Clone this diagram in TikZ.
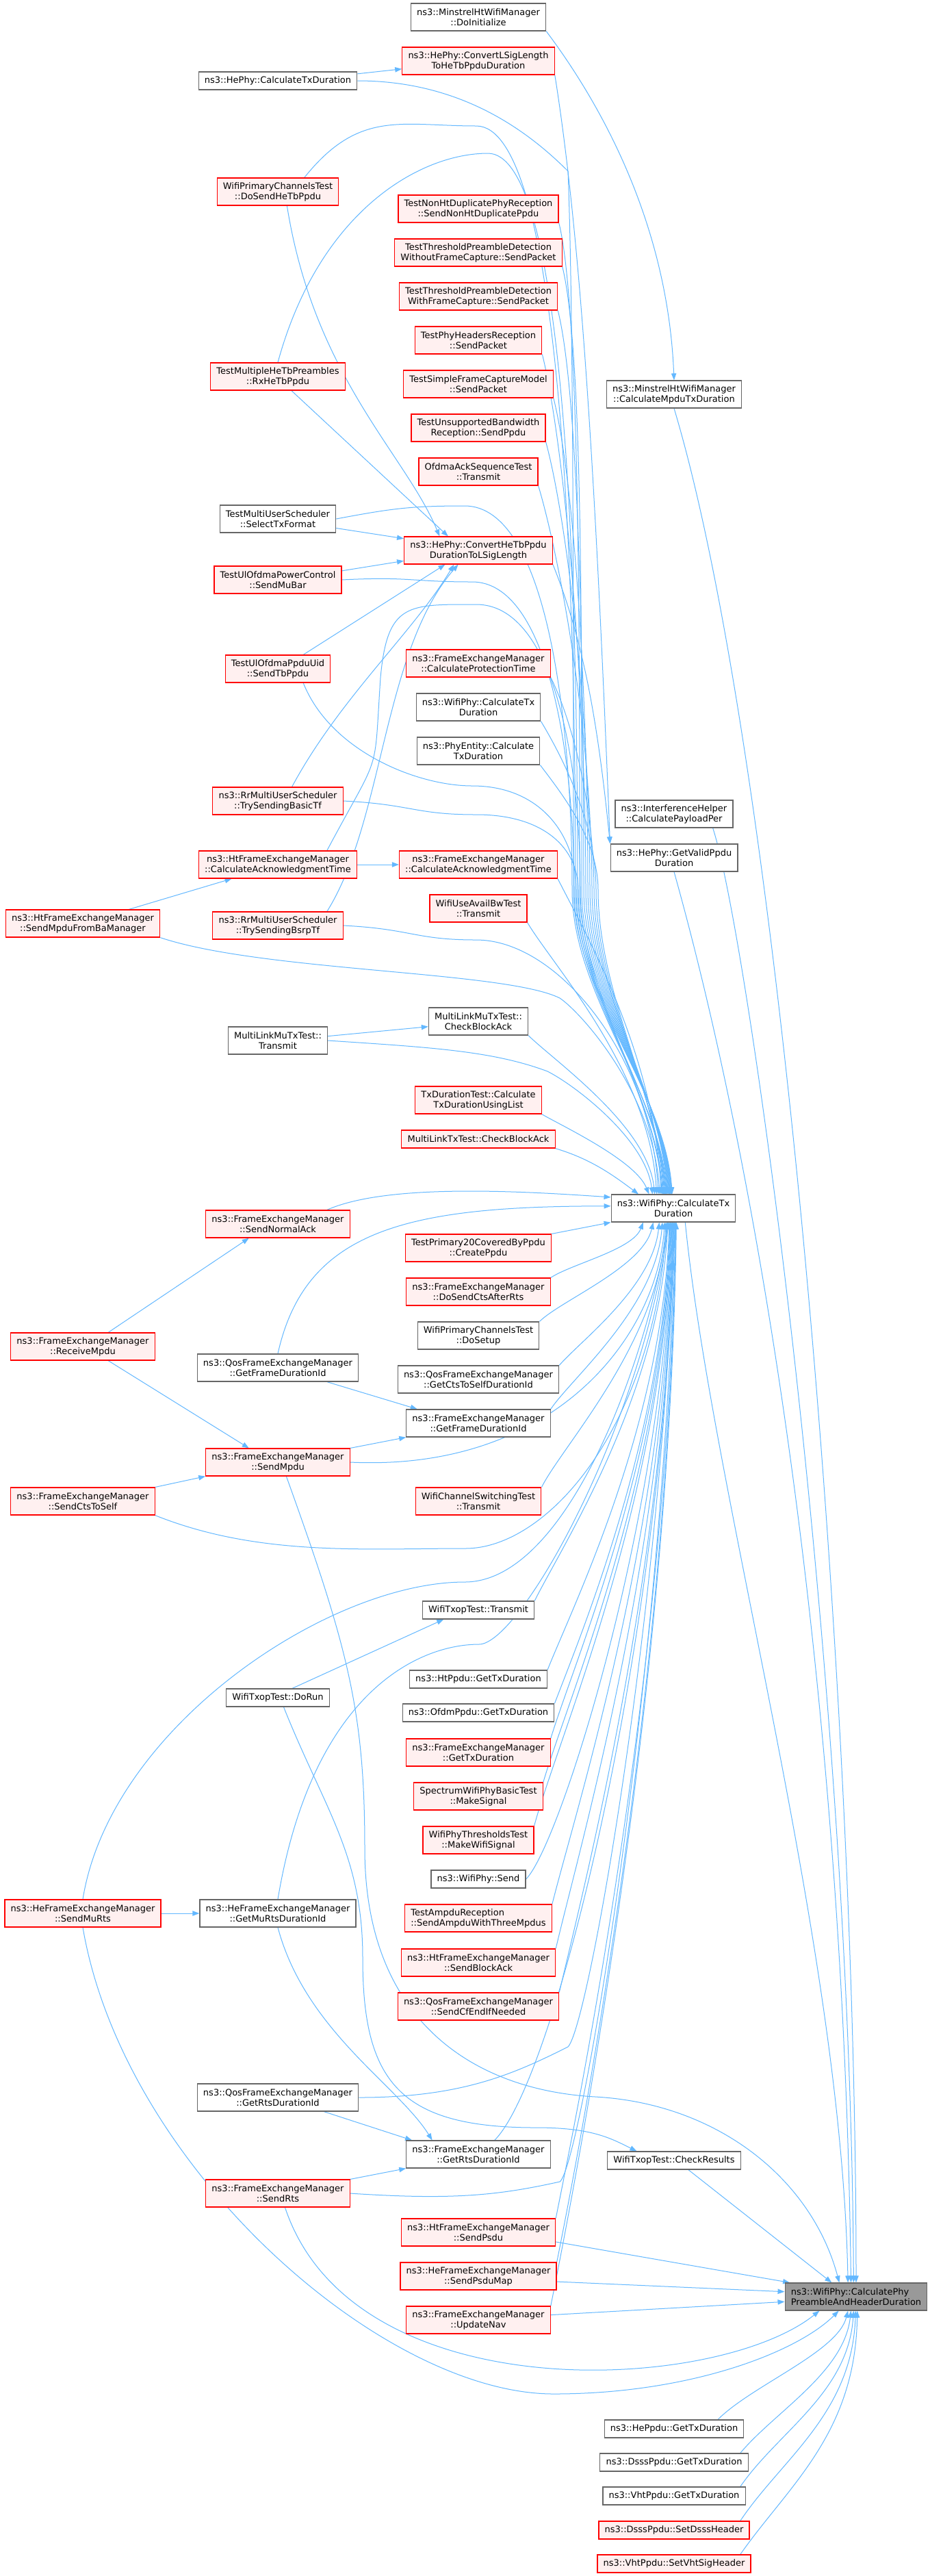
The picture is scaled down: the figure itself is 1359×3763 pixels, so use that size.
\documentclass[tikz,border=0pt]{standalone}
\usepackage{fontspec}
\setmainfont{DejaVu Sans}
\usetikzlibrary{arrows.meta}
\usetikzlibrary{backgrounds}

\definecolor{edgeblue}{HTML}{63B8FF}
\definecolor{redfill}{HTML}{FFF0F0}
\definecolor{boxgray}{HTML}{666666}
\definecolor{targetfill}{HTML}{999999}

\tikzset{
  fn/.style={rectangle, draw=boxgray, fill=white, line width=0.9pt, inner xsep=6.5pt, inner ysep=2pt,
    minimum height=30pt, align=center, font=\fontsize{9.75}{11.25}\selectfont},
  fnred/.style={fn, draw=red, fill=redfill},
  fnone/.style={minimum height=19.5pt},
  fntarget/.style={fn, fill=targetfill, align=left},
  call/.style={draw=edgeblue, line width=0.75pt, -{Triangle[length=7.5pt,width=5.5pt]}}
}

\begin{document}
\begin{tikzpicture}[x=0.75pt, y=-0.75pt]
\path[use as bounding box] (0,0) rectangle (1359,3763);
\begin{scope}[on background layer]
\fill[white] (0,0) rectangle (1359,3763);
\end{scope}

%draw callers, top part
\node[fn] (mhDoInit) at (699,25) {ns3::MinstrelHtWifiManager\\::DoInitialize};
\node[fnred] (convLSig) at (699,89) {ns3::HePhy::ConvertLSigLength\\ToHeTbPpduDuration};
\node[fn, fnone] (heCalcTx) at (406,118) {ns3::HePhy::CalculateTxDuration};
\node[fnred] (wpcSendHeTb) at (406,280) {WifiPrimaryChannelsTest\\::DoSendHeTbPpdu};
\node[fnred] (nonHtDup) at (699,305) {TestNonHtDuplicatePhyReception\\::SendNonHtDuplicatePpdu};
\node[fnred] (thrWithout) at (699,369) {TestThresholdPreambleDetection\\WithoutFrameCapture::SendPacket};
\node[fnred] (thrWith) at (699,433) {TestThresholdPreambleDetection\\WithFrameCapture::SendPacket};
\node[fnred] (phyHdr) at (699,497) {TestPhyHeadersReception\\::SendPacket};
\node[fnred] (multiHeTb) at (406,550) {TestMultipleHeTbPreambles\\::RxHeTbPpdu};
\node[fnred] (simpleCap) at (699,561) {TestSimpleFrameCaptureModel\\::SendPacket};
\node[fn] (mhCalcMpdu) at (985,576) {ns3::MinstrelHtWifiManager\\::CalculateMpduTxDuration};
\node[fnred] (unsupBw) at (699,625) {TestUnsupportedBandwidth\\Reception::SendPpdu};
\node[fnred] (ofdmaAck) at (699,689) {OfdmaAckSequenceTest\\::Transmit};
\node[fn] (selTxFmt) at (406,758) {TestMultiUserScheduler\\::SelectTxFormat};
\node[fnred] (convHeTb) at (699,804) {ns3::HePhy::ConvertHeTbPpdu\\DurationToLSigLength};
\node[fnred] (sendMuBar) at (406,847) {TestUlOfdmaPowerControl\\::SendMuBar};
\node[fnred] (calcProt) at (699,969) {ns3::FrameExchangeManager\\::CalculateProtectionTime};
\node[fnred] (sendTbPpdu) at (406,977) {TestUlOfdmaPpduUid\\::SendTbPpdu};
\node[fn] (wpCalcTx) at (699,1033) {ns3::WifiPhy::CalculateTx\\Duration};
\node[fn] (peCalcTx) at (699,1097) {ns3::PhyEntity::Calculate\\TxDuration};
\node[fnred] (trySendBasic) at (406,1170) {ns3::RrMultiUserScheduler\\::TrySendingBasicTf};
\node[fn] (ihCalcPer) at (985,1189) {ns3::InterferenceHelper\\::CalculatePayloadPer};
\node[fn] (validDur) at (985,1253) {ns3::HePhy::GetValidPpdu\\Duration};
\node[fnred] (htCalcAck) at (406,1263) {ns3::HtFrameExchangeManager\\::CalculateAcknowledgmentTime};
\node[fnred] (femCalcAck) at (699,1263) {ns3::FrameExchangeManager\\::CalculateAcknowledgmentTime};
\node[fnred] (wuabTx) at (699,1327) {WifiUseAvailBwTest\\::Transmit};
\node[fnred] (sendFromBa) at (121,1349) {ns3::HtFrameExchangeManager\\::SendMpduFromBaManager};
\node[fnred] (trySendBsrp) at (406,1352) {ns3::RrMultiUserScheduler\\::TrySendingBsrpTf};
\node[fn] (mlMuCheck) at (699,1492) {MultiLinkMuTxTest::\\CheckBlockAck};
\node[fn] (mlMuTx) at (406,1520) {MultiLinkMuTxTest::\\Transmit};
\node[fnred] (txDurList) at (699,1607) {TxDurationTest::Calculate\\TxDurationUsingList};
\node[fnred, fnone] (mlCheck) at (699,1664) {MultiLinkTxTest::CheckBlockAck};

%draw the hub
\node[fn] (wpTxDur) at (984,1765) {ns3::WifiPhy::CalculateTx\\Duration};

%draw callers, bottom part
\node[fnred] (sendNormalAck) at (406,1788) {ns3::FrameExchangeManager\\::SendNormalAck};
\node[fnred] (p20Create) at (699,1823) {TestPrimary20CoveredByPpdu\\::CreatePpdu};
\node[fnred] (doSendCts) at (699,1887) {ns3::FrameExchangeManager\\::DoSendCtsAfterRts};
\node[fn] (wpcSetup) at (699,1951) {WifiPrimaryChannelsTest\\::DoSetup};
\node[fnred] (recvMpdu) at (121,1967) {ns3::FrameExchangeManager\\::ReceiveMpdu};
\node[fn] (qosFrameDur) at (406,1998) {ns3::QosFrameExchangeManager\\::GetFrameDurationId};
\node[fn] (qosCtsSelf) at (699,2015) {ns3::QosFrameExchangeManager\\::GetCtsToSelfDurationId};
\node[fn] (femFrameDur) at (699,2079) {ns3::FrameExchangeManager\\::GetFrameDurationId};
\node[fnred] (sendMpdu) at (406,2136) {ns3::FrameExchangeManager\\::SendMpdu};
\node[fnred] (sendCtsSelf) at (121,2193) {ns3::FrameExchangeManager\\::SendCtsToSelf};
\node[fnred] (wcsTx) at (699,2193) {WifiChannelSwitchingTest\\::Transmit};
\node[fn, fnone] (txopTx) at (699,2352) {WifiTxopTest::Transmit};
\node[fn, fnone] (htPpduDur) at (699,2453) {ns3::HtPpdu::GetTxDuration};
\node[fn, fnone] (txopRun) at (406,2480) {WifiTxopTest::DoRun};
\node[fn, fnone] (ofdmPpduDur) at (699,2502) {ns3::OfdmPpdu::GetTxDuration};
\node[fnred] (femTxDur) at (699,2560) {ns3::FrameExchangeManager\\::GetTxDuration};
\node[fnred] (makeSignal) at (699,2624) {SpectrumWifiPhyBasicTest\\::MakeSignal};
\node[fnred] (makeWifiSig) at (699,2688) {WifiPhyThresholdsTest\\::MakeWifiSignal};
\node[fn, fnone] (wpSend) at (699,2745) {ns3::WifiPhy::Send};
\node[fnred] (sendMuRts) at (121,2795) {ns3::HeFrameExchangeManager\\::SendMuRts};
\node[fn] (muRtsDur) at (406,2795) {ns3::HeFrameExchangeManager\\::GetMuRtsDurationId};
\node[fnred, align=left] (ampdu3) at (699,2802) {TestAmpduReception\\::SendAmpduWithThreeMpdus};
\node[fnred] (sendBlockAck) at (699,2867) {ns3::HtFrameExchangeManager\\::SendBlockAck};
\node[fnred] (sendCfEnd) at (699,2931) {ns3::QosFrameExchangeManager\\::SendCfEndIfNeeded};
\node[fn] (qosRtsDur) at (406,3064) {ns3::QosFrameExchangeManager\\::GetRtsDurationId};
\node[fn] (femRtsDur) at (699,3147) {ns3::FrameExchangeManager\\::GetRtsDurationId};
\node[fn, fnone] (txopCheck) at (985,3156) {WifiTxopTest::CheckResults};
\node[fnred] (sendRts) at (406,3204) {ns3::FrameExchangeManager\\::SendRts};
\node[fnred] (sendPsdu) at (699,3261) {ns3::HtFrameExchangeManager\\::SendPsdu};
\node[fnred] (sendPsduMap) at (699,3325) {ns3::HeFrameExchangeManager\\::SendPsduMap};
\node[fntarget] (phyPreamble) at (1251,3355) {ns3::WifiPhy::CalculatePhy\\PreambleAndHeaderDuration};
\node[fnred] (updateNav) at (699,3389) {ns3::FrameExchangeManager\\::UpdateNav};
\node[fn, fnone] (hePpduDur) at (985,3548) {ns3::HePpdu::GetTxDuration};
\node[fn, fnone] (dsssPpduDur) at (985,3597) {ns3::DsssPpdu::GetTxDuration};
\node[fn, fnone] (vhtPpduDur) at (985,3646) {ns3::VhtPpdu::GetTxDuration};
\node[fnred, fnone] (setDsss) at (985,3696) {ns3::DsssPpdu::SetDsssHeader};
\node[fnred, fnone] (setVhtSig) at (985,3745) {ns3::VhtPpdu::SetVhtSigHeader};

\begin{scope}[on background layer]
%draw calls into the target
\draw[call] (mhCalcMpdu.south) .. controls +(150,500) and +(0,-900) .. (phyPreamble.90);
\draw[call] (ihCalcPer.-20) .. controls +(50,150) and +(-5,-900) .. (phyPreamble.100);
\draw[call] (validDur.south) .. controls +(140,500) and +(-10,-800) .. (phyPreamble.110);
\draw[call] (wpTxDur.-50) .. controls +(40,400) and +(-10,-500) .. (phyPreamble.120);
\draw[call] (txopCheck.-33) -- (phyPreamble.150);
\draw[call] (sendPsdu.-7) -- (phyPreamble.168);
\draw[call] (sendPsduMap.-4) -- (phyPreamble.176);
\draw[call] (updateNav.4) -- (phyPreamble.-176);
\draw[call] (sendRts.-63) .. controls +(100,300) and +(-150,120) .. (phyPreamble.-159);
\draw[call] (sendMuRts.south) .. controls +(60,350) and +(-250,0) .. (809,3497) .. controls +(200,0) and +(-60,60) .. (phyPreamble.-141);
\draw[call] (sendMpdu.-59) .. controls +(90,250) and +(0,-200) .. (533,2700) .. controls +(0,250) and +(-180,-10) .. (870,3063) .. controls +(180,10) and +(-40,-150) .. (phyPreamble.140);
\draw[call] (hePpduDur.12) .. controls +(50,-50) and +(-15,60) .. (phyPreamble.-120);
\draw[call] (dsssPpduDur.8) .. controls +(50,-60) and +(-10,90) .. (phyPreamble.-110);
\draw[call] (vhtPpduDur.8) .. controls +(55,-80) and +(-8,120) .. (phyPreamble.-100);
\draw[call] (setDsss.8) .. controls +(60,-90) and +(-5,150) .. (phyPreamble.-92);
\draw[call] (setVhtSig.8) .. controls +(70,-100) and +(-3,180) .. (phyPreamble.-85);

%draw calls into the hub from above
\draw[call] (heCalcTx.east) .. controls +(150,0) and +(-60,-60) .. (830,250) .. controls +(8,200) and +(0,-400) .. (838,1300) .. controls +(0,150) and +(-10,-150) .. (wpTxDur.95);
\draw[call] (wpcSendHeTb.28) .. controls +(80,-100) and +(-110,0) .. (696,184) .. controls +(120,0) and +(0,-500) .. (841,1300) .. controls +(0,150) and +(-10,-150) .. (wpTxDur.97);
\draw[call] (multiHeTb.north) .. controls +(60,-220) and +(-100,0) .. (713,224) .. controls +(110,0) and +(0,-500) .. (844,1300) .. controls +(0,150) and +(-10,-150) .. (wpTxDur.99);
\draw[call] (nonHtDup.south east) .. controls +(30,120) and +(0,-390) .. (847,1300) .. controls +(0,150) and +(-10,-150) .. (wpTxDur.101);
\draw[call] (thrWithout.south east) .. controls +(30,120) and +(0,-365) .. (850,1300) .. controls +(0,150) and +(-10,-150) .. (wpTxDur.103);
\draw[call] (thrWith.south east) .. controls +(30,120) and +(0,-340) .. (853,1300) .. controls +(0,150) and +(-10,-150) .. (wpTxDur.105);
\draw[call] (phyHdr.south east) .. controls +(30,120) and +(0,-315) .. (856,1300) .. controls +(0,150) and +(-10,-150) .. (wpTxDur.107);
\draw[call] (simpleCap.south east) .. controls +(30,120) and +(0,-290) .. (859,1300) .. controls +(0,150) and +(-10,-150) .. (wpTxDur.109);
\draw[call] (unsupBw.south east) .. controls +(30,110) and +(0,-260) .. (862,1300) .. controls +(0,150) and +(-10,-150) .. (wpTxDur.111);
\draw[call] (ofdmaAck.south east) .. controls +(30,100) and +(0,-235) .. (865,1300) .. controls +(0,150) and +(-10,-150) .. (wpTxDur.113);
\draw[call] (selTxFmt.east) .. controls +(80,-15) and +(-80,0) .. (679,739) .. controls +(120,0) and +(0,-250) .. (836,1300) .. controls +(0,150) and +(-10,-150) .. (wpTxDur.115);
\draw[call] (sendMuBar.east) .. controls +(100,-5) and +(-90,0) .. (690,850) .. controls +(110,0) and +(0,-200) .. (839,1300) .. controls +(0,150) and +(-10,-150) .. (wpTxDur.117);
\draw[call] (sendTbPpdu.-29) .. controls +(40,100) and +(-80,0) .. (690,1148) .. controls +(100,0) and +(0,-80) .. (842,1300) .. controls +(0,150) and +(-10,-150) .. (wpTxDur.119);
\draw[call] (calcProt.south east) .. controls +(30,60) and +(0,-125) .. (868,1300) .. controls +(0,150) and +(-10,-150) .. (wpTxDur.121);
\draw[call] (wpCalcTx.south east) .. controls +(30,50) and +(0,-100) .. (871,1300) .. controls +(0,150) and +(-10,-150) .. (wpTxDur.123);
\draw[call] (peCalcTx.south east) .. controls +(30,40) and +(0,-75) .. (874,1300) .. controls +(0,150) and +(-10,-150) .. (wpTxDur.125);
\draw[call] (trySendBasic.east) .. controls +(100,5) and +(-90,0) .. (696,1190) .. controls +(100,0) and +(0,-60) .. (845,1300) .. controls +(0,150) and +(-10,-150) .. (wpTxDur.127);
\draw[call] (htCalcAck.16) .. controls +(80,-150) and +(-10,150) .. (556,990) .. controls +(10,-110) and +(-100,0) .. (696,883) .. controls +(110,0) and +(0,-200) .. (848,1300) .. controls +(0,150) and +(-10,-150) .. (wpTxDur.129);
\draw[call] (femCalcAck.south east) .. controls +(35,70) and +(-10,-210) .. (wpTxDur.131);
\draw[call] (sendFromBa.south east) .. controls +(150,50) and +(-80,-40) .. (818,1458) .. controls +(30,20) and +(-10,-150) .. (wpTxDur.134);
\draw[call] (trySendBsrp.east) .. controls +(100,5) and +(-90,0) .. (696,1373) .. controls +(120,0) and +(-10,-200) .. (wpTxDur.137);
\draw[call] (wuabTx.south east) .. controls +(35,60) and +(-10,-180) .. (wpTxDur.140);
\draw[call] (mlMuCheck.south east) .. controls +(35,35) and +(-10,-100) .. (wpTxDur.143);
\draw[call] (mlMuTx.east) .. controls +(150,10) and +(-80,-30) .. (800,1565) .. controls +(40,20) and +(-10,-80) .. (wpTxDur.146);
\draw[call] (txDurList.south east) .. controls +(25,15) and +(-20,-50) .. (wpTxDur.150);
\draw[call] (mlCheck.south east) .. controls +(50,15) and +(-40,-30) .. (wpTxDur.158);
\draw[call] (sendNormalAck.16) .. controls +(90,-40) and +(-120,-8) .. (wpTxDur.170);
\draw[call] (qosFrameDur.north) .. controls +(40,-180) and +(-300,0) .. (wpTxDur.178);

%draw calls into the hub from below
\draw[call] (p20Create.north east) -- (wpTxDur.south west);
\draw[call] (doSendCts.north east) .. controls +(30,-20) and +(-15,40) .. (wpTxDur.-155);
\draw[call] (wpcSetup.north east) .. controls +(30,-30) and +(-15,65) .. (wpTxDur.-145);
\draw[call] (qosCtsSelf.north east) .. controls +(30,-35) and +(-10,95) .. (wpTxDur.-135);
\draw[call] (femFrameDur.north east) .. controls +(30,-45) and +(-10,125) .. (wpTxDur.-128);
\draw[call] (sendMpdu.east) .. controls +(300,14) and +(-10,165) .. (wpTxDur.-122);
\draw[call] (wcsTx.north east) .. controls +(30,-60) and +(-10,175) .. (wpTxDur.-118);
\draw[call] (sendCtsSelf.south east) .. controls +(150,60) and +(-150,0) .. (680,2262) .. controls +(120,0) and +(-20,300) .. (wpTxDur.-115);
\draw[call] (txopTx.north east) .. controls +(40,-80) and +(-10,250) .. (wpTxDur.-112);
\draw[call] (sendMuRts.north) .. controls +(40,-250) and +(-200,0) .. (679,2311) .. controls +(150,0) and +(-30,200) .. (wpTxDur.-110);
\draw[call] (muRtsDur.north) .. controls +(50,-300) and +(-90,0) .. (700,2402) .. controls +(60,0) and +(-40,300) .. (wpTxDur.-108);
\draw[call] (htPpduDur.north east) .. controls +(40,-100) and +(-10,295) .. (wpTxDur.-106);
\draw[call] (ofdmPpduDur.north east) .. controls +(40,-105) and +(-10,315) .. (wpTxDur.-104);
\draw[call] (femTxDur.north east) .. controls +(35,-115) and +(-10,340) .. (wpTxDur.-102);
\draw[call] (makeSignal.north east) .. controls +(35,-120) and +(-10,370) .. (wpTxDur.-100);
\draw[call] (makeWifiSig.north east) .. controls +(35,-130) and +(-10,400) .. (wpTxDur.-98);
\draw[call] (wpSend.east) .. controls +(50,-50) and +(-10,425) .. (wpTxDur.-96);
\draw[call] (ampdu3.north east) .. controls +(35,-140) and +(-10,450) .. (wpTxDur.-94);
\draw[call] (sendBlockAck.north east) .. controls +(35,-150) and +(-10,480) .. (wpTxDur.-92);
\draw[call] (sendCfEnd.north east) .. controls +(35,-150) and +(-10,505) .. (wpTxDur.-90);
\draw[call] (qosRtsDur.east) .. controls +(150,0) and +(-80,40) .. (830,2990) .. controls +(30,-30) and +(-15,550) .. (wpTxDur.-88);
\draw[call] (femRtsDur.41) .. controls +(90,-90) and +(-15,600) .. (wpTxDur.-86);
\draw[call] (sendRts.east) .. controls +(150,10) and +(-90,20) .. (818,3187) .. controls +(30,-20) and +(-15,650) .. (wpTxDur.-84);
\draw[call] (sendPsdu.north east) .. controls +(30,-150) and +(-10,655) .. (wpTxDur.-82);
\draw[call] (sendPsduMap.north east) .. controls +(30,-150) and +(-10,685) .. (wpTxDur.-80);
\draw[call] (updateNav.north east) .. controls +(30,-150) and +(-10,710) .. (wpTxDur.-78);

%draw the other calls
\draw[call] (mhDoInit.south east) .. controls +(60,80) and +(-10,-250) .. (mhCalcMpdu.north);
\draw[call] (heCalcTx.5) -- (convLSig.-174);
\draw[call] (convLSig.south east) .. controls +(40,250) and +(-20,-500) .. (validDur.north west);
\draw[call] (convHeTb.south east) .. controls +(40,100) and +(-20,-200) .. (validDur.north west);
\draw[call] (wpcSendHeTb.-57) .. controls +(40,250) and +(-50,-120) .. (convHeTb.160);
\draw[call] (multiHeTb.-46) -- (convHeTb.155);
\draw[call] (selTxFmt.-9) -- (convHeTb.171);
\draw[call] (sendMuBar.8) -- (convHeTb.-172);
\draw[call] (sendTbPpdu.29) -- (convHeTb.-157);
\draw[call] (trySendBasic.45) .. controls +(70,-130) and +(-60,100) .. (convHeTb.-150);
\draw[call] (trySendBsrp.16) .. controls +(83,-132) and +(-110,126) .. (convHeTb.-145);
\draw[call] (htCalcAck.east) -- (femCalcAck.west);
\draw[call] (sendFromBa.17) -- (htCalcAck.-163);
\draw[call] (mlMuTx.5) -- (mlMuCheck.-174);
\draw[call] (recvMpdu.29) -- (sendNormalAck.-154);
\draw[call] (recvMpdu.-29) -- (sendMpdu.154);
\draw[call] (sendCtsSelf.north east) -- (sendMpdu.south west);
\draw[call] (sendMpdu.north east) -- (femFrameDur.south west);
\draw[call] (qosFrameDur.-16) -- (femFrameDur.167);
\draw[call] (txopRun.33) -- (txopTx.-165);
\draw[call] (txopRun.-58) .. controls +(60,150) and +(0,-150) .. (530,2860) .. controls +(0,180) and +(-200,0) .. (783,3108) .. controls +(80,0) and +(-40,-20) .. (txopCheck.166);
\draw[call] (sendMuRts.east) -- (muRtsDur.west);
\draw[call] (muRtsDur.south) .. controls +(40,150) and +(-50,-80) .. (femRtsDur.163);
\draw[call] (qosRtsDur.-17) -- (femRtsDur.168);
\draw[call] (sendRts.north east) -- (femRtsDur.south west);
\end{scope}
\end{tikzpicture}
\end{document}
